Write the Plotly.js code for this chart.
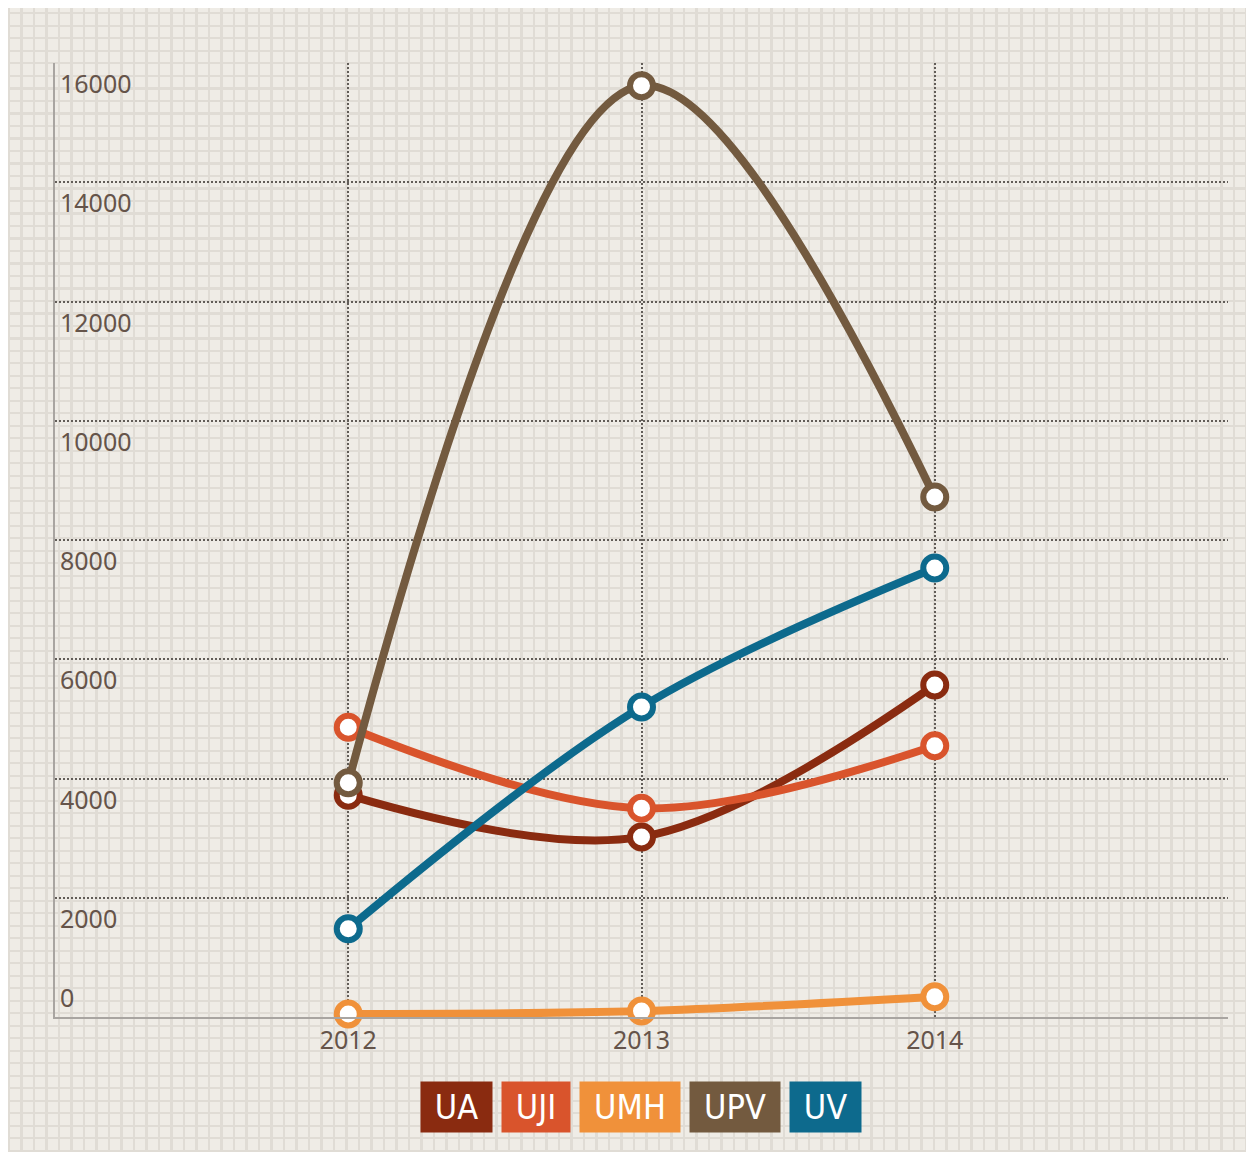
<!DOCTYPE html>
<html>
<head>
<meta charset="utf-8">
<script src="https://cdn.plot.ly/plotly-3.0.1.min.js"></script>
<style>
    html, body { margin: 0; padding: 0; background: #ffffff; }
    #wrap {
        position: absolute; left: 8px; top: 8px; width: 1238px; height: 1144px;
        background-color: #efece6;
        background-image:
            repeating-linear-gradient(0deg, #e0dcd5 0px, #e0dcd5 2px, transparent 2px, transparent 12.5px),
            repeating-linear-gradient(90deg, #e0dcd5 0px, #e0dcd5 2px, transparent 2px, transparent 12.5px);
    }
    #chart { position: absolute; left: -8px; top: -8px; width: 1254px; height: 1152px; }
</style>
</head>
<body>
<div id="wrap"><div id="chart"></div></div>
<script>
// data
const years = [2012, 2013, 2014];
const seriesNames = ['UA', 'UJI', 'UMH', 'UPV', 'UV'];
const seriesColors = ['#8a2b10', '#d9542c', '#f0913a', '#735a3f', '#0d6a8d'];
const valuesUA = [3720, 3020, 5570];
const valuesUJI = [4860, 3500, 4550];
const valuesUMH = [50, 100, 340];
const valuesUPV = [3930, 15620, 8720];
const valuesUV = [1480, 5200, 7530];
const yTicks = [0, 2000, 4000, 6000, 8000, 10000, 12000, 14000, 16000];

const allValues = [valuesUA, valuesUJI, valuesUMH, valuesUPV, valuesUV];

const traces = seriesNames.map((name, i) => ({
    x: years,
    y: allValues[i],
    name,
    type: 'scatter',
    mode: 'lines+markers',
    line: { color: seriesColors[i], width: 8, shape: 'spline', smoothing: 1 },
    marker: { size: 23, color: '#ffffff', line: { color: seriesColors[i], width: 6 } },
    cliponaxis: false,
    hoverinfo: 'x+y+name'
}));

const tickColor = '#65544a';
const annotations = [];

// y tick labels sit just under each gridline, inside the plot
for (const v of yTicks) {
    annotations.push({
        xref: 'paper', yref: 'y', x: 0, y: v,
        xanchor: 'left', yanchor: v === 0 ? 'bottom' : 'top',
        xshift: 3, yshift: v === 0 ? 1 : -1,
        text: String(v), showarrow: false,
        font: { family: 'Noto Sans, sans-serif', size: 25, color: tickColor }
    });
}

// legend as coloured boxes with white text
const legendFont = 'Liberation Sans Narrow, DejaVu Sans Condensed, sans-serif';
const ctx = document.createElement('canvas').getContext('2d');
ctx.font = '34px ' + legendFont;
const boxW = seriesNames.map(n => Math.round(ctx.measureText(n).width) + 22);
const gap = 16;
const plotW = 1254 - 55 - 26;
const total = boxW.reduce((a, b) => a + b, 0) + gap * (boxW.length - 1);
let px = (641 - 55) - total / 2;
seriesNames.forEach((name, i) => {
    annotations.push({
        xref: 'paper', yref: 'paper',
        x: (px + boxW[i] / 2) / plotW, y: -0.094,
        xanchor: 'center', yanchor: 'middle',
        text: name, showarrow: false,
        width: boxW[i], height: 44, borderpad: 3,
        bgcolor: seriesColors[i],
        font: { family: legendFont, size: 34, color: '#ffffff' }
    });
    px += boxW[i] + gap;
});

const layout = {
    width: 1254,
    height: 1152,
    margin: { l: 55, r: 26, t: 63, b: 135 },
    paper_bgcolor: 'rgba(0,0,0,0)',
    plot_bgcolor: 'rgba(0,0,0,0)',
    showlegend: false,
    xaxis: {
        range: [2011, 2015],
        tickvals: [2011].concat(years, [2015]),
        ticktext: [''].concat(years.map(String), ['']),
        showgrid: true, gridcolor: '#625d58', gridwidth: 2, griddash: '2px,2px',
        showline: true, linecolor: '#a9a5a1', linewidth: 2,
        zeroline: false, ticks: '',
        tickfont: { family: 'Noto Sans, sans-serif', size: 25, color: tickColor }
    },
    yaxis: {
        range: [0, 16000],
        tickvals: yTicks,
        showticklabels: false,
        showgrid: true, gridcolor: '#625d58', gridwidth: 2, griddash: '2px,2px',
        showline: true, linecolor: '#a9a5a1', linewidth: 2,
        zeroline: false, ticks: ''
    },
    annotations
};

Plotly.newPlot('chart', traces, layout, { displayModeBar: false });
</script>
</body>
</html>
